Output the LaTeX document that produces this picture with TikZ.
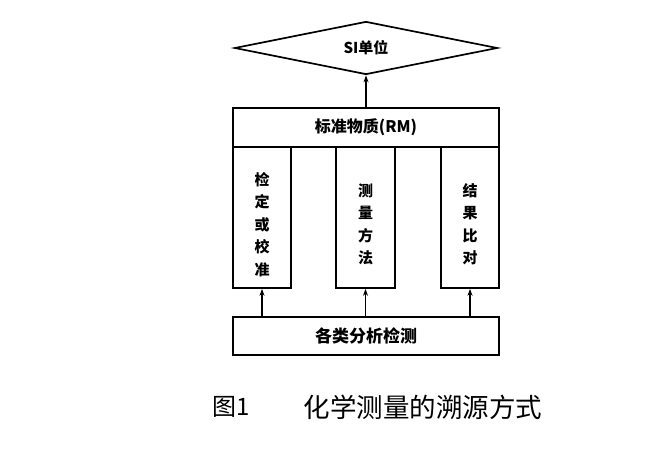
\documentclass[tikz,border=0pt]{standalone}
\usepackage{fontspec}
\newfontfamily\cjk{Noto Sans CJK SC}
\usetikzlibrary{shapes.geometric,arrows.meta}
\begin{document}
\begin{tikzpicture}[x=1pt,y=-1pt,
  box/.style={draw,line width=1.7pt,inner sep=0pt},
  lbl/.style={font=\cjk\bfseries\fontsize{15}{22.5}\selectfont,align=center},
  arr/.style={line width=1.2pt,-{Stealth[length=7pt,width=5pt]}}]
\useasboundingbox (0,0) rectangle (660,468);
\node[draw,line width=1.7pt,diamond,aspect=5,minimum width=263pt,minimum height=53pt,inner sep=0pt] (si) at (366,48) {};
\node[lbl,font=\cjk\bfseries\fontsize{15}{18}\selectfont] at (si.center) {SI单位};
\node[box,minimum width=266pt,minimum height=39pt] (rm) at (366,127.5) {};
\node[lbl,font=\cjk\bfseries\fontsize{16}{18}\selectfont] at (rm.center) {标准物质(RM)};
\node[box,minimum width=58pt,minimum height=141pt] (c1) at (262,217.5) {};
\node[box,minimum width=59pt,minimum height=141pt] (c2) at (365.5,217.5) {};
\node[box,minimum width=58pt,minimum height=141pt] (c3) at (470,217.5) {};
\node[lbl] at ([yshift=-7pt]c1.center) {检\\定\\或\\校\\准};
\node[lbl] at ([yshift=-7pt]c2.center) {测\\量\\方\\法};
\node[lbl] at ([yshift=-7pt]c3.center) {结\\果\\比\\对};
\node[box,minimum width=266pt,minimum height=38pt] (bt) at (366,336) {};
\node[lbl,font=\cjk\bfseries\fontsize{17}{18}\selectfont] at (bt.center) {各类分析检测};
\draw[arr] (rm.north) -- (si.south);
\draw[arr] (bt.north -| c1.south) -- (c1.south);
\draw[arr] (bt.north -| c2.south) -- (c2.south);
\draw[arr] (bt.north -| c3.south) -- (c3.south);
\node[font=\cjk\fontsize{24}{28}\selectfont,anchor=west] (fig) at (209,407) {图1};
\node[font=\cjk\fontsize{26.5}{28}\selectfont,anchor=west] (cap) at (300,407) {化学测量的溯源方式};
\end{tikzpicture}
\end{document}
